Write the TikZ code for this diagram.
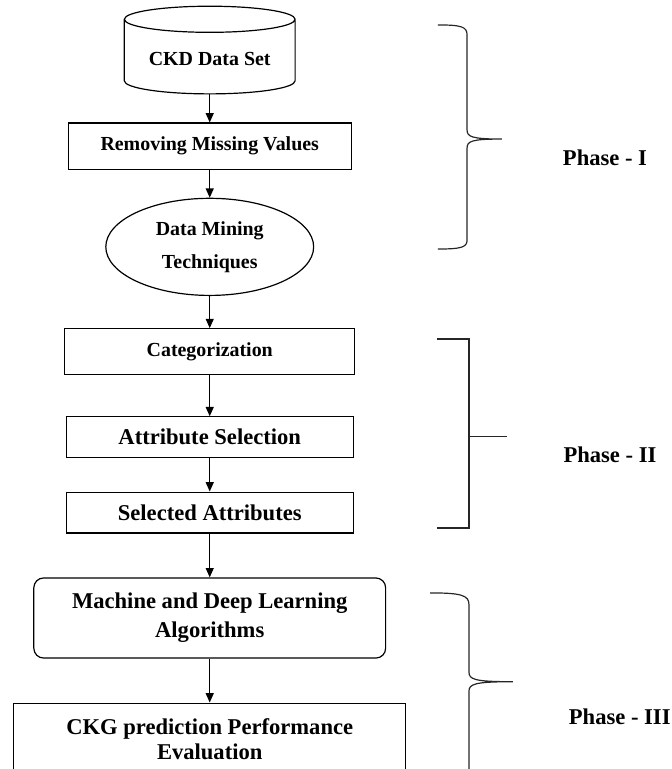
\documentclass[tikz,border=0pt]{standalone}
\usepackage{fontspec}
\setmainfont{Liberation Serif}
\usetikzlibrary{
  shapes.geometric,
  arrows.meta,
  positioning
}

\begin{document}
\begin{tikzpicture}[
    font=\bfseries,
    node distance=0.9cm,
    small/.style={font=\bfseries\fontsize{15}{25}\selectfont},
    big/.style={font=\bfseries\fontsize{17}{22}\selectfont},
    store/.style={cylinder, shape border rotate=90, aspect=0.2, draw, line width=0.9pt,
                  minimum width=4.52cm, minimum height=2.32cm, small},
    proc/.style={rectangle, draw, line width=0.9pt, align=center},
    mine/.style={ellipse, draw, line width=0.9pt, minimum width=5.50cm,
                 minimum height=2.57cm, align=center, small},
    algo/.style={rectangle, rounded corners=0.26cm, draw, line width=0.9pt,
                 minimum width=9.31cm, minimum height=2.12cm, align=center, big},
    arr/.style={-{Triangle[length=7pt,width=6pt]}, line width=0.9pt},
    brace/.style={line width=0.9pt, draw=black!85},
    phase/.style={big},
  ]
    \useasboundingbox (0,0) rectangle (17.78,-20.35);

    %% -- Phase I ------------------------------------------------
    \node[store] (data) at (5.55,-1.56) {CKD Data Set};
    \node[proc, small, minimum width=7.49cm, minimum height=1.22cm]
         (clean) [below=0.74cm of data] {Removing Missing Values};
    \node[mine] (mining) [below=0.74cm of clean] {Data Mining\\Techniques};

    %% -- Phase II -----------------------------------------------
    \node[proc, small, minimum width=7.67cm, minimum height=1.22cm]
         (categ) [below=0.85cm of mining] {Categorization};
    \node[proc, big, minimum width=7.59cm, minimum height=1.08cm]
         (attrsel) [below=1.08cm of categ] {Attribute Selection};
    \node[proc, big, minimum width=7.59cm, minimum height=1.08cm]
         (selattr) [below=0.88cm of attrsel] {Selected Attributes};

    %% -- Phase III ----------------------------------------------
    \node[algo] (mldl) [below=1.16cm of selattr] {Machine and Deep Learning\\Algorithms};
    \node[proc, big, font=\bfseries\fontsize{17}{19}\selectfont,
          minimum width=10.37cm, minimum height=1.90cm]
         (eval) [below=1.16cm of mldl] {CKG prediction Performance\\Evaluation};

    %% -- Phase labels -------------------------------------------
    \node[phase] (ph1) at (16.01,-4.18)  {Phase - I};
    \node[phase] (ph2) at (16.14,-12.04) {Phase - II};
    \node[phase] (ph3) at (16.40,-18.97) {Phase - III};

    %% -- Arrows -------------------------------------------------
    \draw[arr] (data) -- (clean);
    \draw[arr] (clean) -- (mining);
    \draw[arr] (mining) -- (categ);
    \draw[arr] (categ) -- (attrsel);
    \draw[arr] (attrsel) -- (selattr);
    \draw[arr] (selattr) -- (mldl);
    \draw[arr] (mldl) -- (eval);

    %% -- Braces -------------------------------------------------
    \draw[brace] (11.59,-0.66) .. controls (12.22,-0.66) and (12.36,-0.71) .. (12.36,-0.93)
      -- (12.36,-3.44) .. controls (12.36,-3.62) and (12.49,-3.68) .. (13.28,-3.68)
      .. controls (12.49,-3.68) and (12.36,-3.73) .. (12.36,-3.92)
      -- (12.36,-6.35) .. controls (12.36,-6.54) and (12.22,-6.59) .. (11.59,-6.59);
    \draw[brace] (11.56,-8.97) -- (12.41,-8.97) -- (12.41,-13.97) -- (11.56,-13.97);
    \draw[brace] (12.41,-11.56) -- (13.41,-11.56);
    \draw[brace] (11.38,-15.69) .. controls (12.20,-15.69) and (12.41,-15.75) .. (12.41,-16.00)
      -- (12.41,-17.78) .. controls (12.41,-17.98) and (12.55,-18.04) .. (13.57,-18.04)
      .. controls (12.55,-18.04) and (12.41,-18.10) .. (12.41,-18.30)
      -- (12.41,-20.40);

  \end{tikzpicture}
\end{document}
